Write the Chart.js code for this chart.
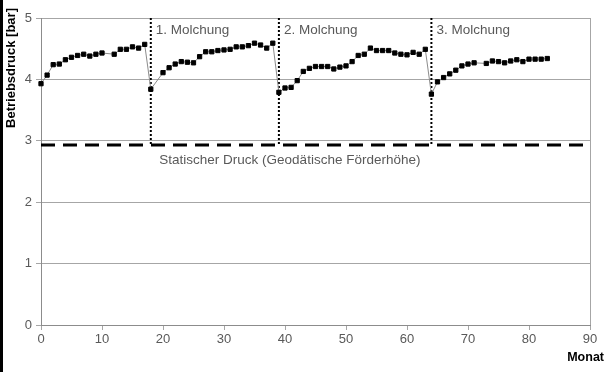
<!DOCTYPE html>
<html>
<head>
<meta charset="utf-8">
<script src="https://cdn.jsdelivr.net/npm/chart.js@4/dist/chart.umd.min.js"></script>
<style>
  html, body { margin: 0; padding: 0; background: #fff; }
  #wrap { width: 606px; height: 372px; position: relative; }
</style>
</head>
<body>
<div id="wrap"><canvas id="c"></canvas></div>
<script>
// months with a measurement (a few months are missing)
const months = [
  0, 1, 2, 3, 4, 5, 6, 7, 8, 9, 10, 12, 13, 14, 15, 16, 17, 18,
  20, 21, 22, 23, 24, 25, 26, 27, 28, 29, 30, 31, 32, 33, 34, 35, 36, 37, 38,
  39, 40, 41, 42, 43, 44, 45, 46, 47, 48, 49, 50, 51, 52, 53, 54, 55, 56, 57, 58, 59, 60, 61, 62, 63,
  64, 65, 66, 67, 68, 69, 70, 71, 73, 74, 75, 76, 77, 78, 79, 80, 81, 82, 83
]
const pressure = [
  3.93, 4.07, 4.24, 4.25, 4.32, 4.36, 4.39, 4.41, 4.38, 4.41, 4.43, 4.41, 4.49, 4.49, 4.53, 4.51, 4.57, 3.84,
  4.11, 4.19, 4.25, 4.29, 4.28, 4.27, 4.37, 4.45, 4.45, 4.47, 4.48, 4.49, 4.53, 4.53, 4.55, 4.59, 4.56, 4.51, 4.59,
  3.79, 3.86, 3.87, 3.98, 4.13, 4.18, 4.21, 4.21, 4.21, 4.17, 4.20, 4.22, 4.29, 4.39, 4.41, 4.51, 4.47, 4.47, 4.47, 4.43, 4.41, 4.40, 4.44, 4.41, 4.49,
  3.76, 3.96, 4.03, 4.09, 4.15, 4.22, 4.25, 4.27, 4.26, 4.30, 4.29, 4.27, 4.30, 4.32, 4.29, 4.33, 4.33, 4.33, 4.34
]
const pigRuns = [18, 39, 64]
const pigLabels = ['1. Molchung', '2. Molchung', '3. Molchung']
const staticPressure = 2.93
const staticLabel = 'Statischer Druck (Geodätische Förderhöhe)'
const xTicks = [0, 10, 20, 30, 40, 50, 60, 70, 80, 90]
const yTicks = [0, 1, 2, 3, 4, 5]

const FONT = '"Liberation Sans", Arial, sans-serif'
const GRID = '#a6a6a6'
const TXT = '#595959'

function pigLine(m) {
  return {
    type: 'line',
    data: [{ x: m, y: 5 }, { x: m, y: staticPressure }],
    borderColor: '#000',
    borderWidth: 2,
    borderDash: [2, 2],
    pointRadius: 0,
    order: 2,
  }
}

const extras = {
  id: 'extras',
  beforeDraw(chart) {
    const { ctx } = chart
    ctx.save()
    ctx.fillStyle = '#fff'
    ctx.fillRect(0, 0, chart.width, chart.height)
    ctx.fillStyle = '#000'
    ctx.fillRect(0, 0, 3, chart.height)
    ctx.restore()
  },
  afterDatasetsDraw(chart) {
    const { ctx, chartArea } = chart
    const xs = chart.scales.x
    const ys = chart.scales.y
    ctx.save()
    // right border of the plot
    ctx.strokeStyle = GRID
    ctx.lineWidth = 1
    ctx.beginPath()
    ctx.moveTo(Math.round(chartArea.right) + 0.5, chartArea.top)
    ctx.lineTo(Math.round(chartArea.right) + 0.5, chartArea.bottom)
    ctx.stroke()

    ctx.fillStyle = TXT
    ctx.font = '13.5px ' + FONT
    ctx.textBaseline = 'middle'
    ctx.textAlign = 'left'
    pigRuns.forEach((m, i) => {
      ctx.fillText(pigLabels[i], xs.getPixelForValue(m) + 5, ys.getPixelForValue(4.8))
    })
    ctx.textAlign = 'center'
    ctx.fillText(staticLabel, xs.getPixelForValue(40.8), ys.getPixelForValue(2.68))

    ctx.fillStyle = '#000'
    ctx.font = 'bold 12.5px ' + FONT
    ctx.textAlign = 'right'
    ctx.fillText('Monat', 604, 358)
    ctx.translate(11, 68)
    ctx.rotate(-Math.PI / 2)
    ctx.textAlign = 'center'
    ctx.font = 'bold 13px ' + FONT
    ctx.fillText('Betriebsdruck [bar]', 0, 0)
    ctx.restore()
  },
}

new Chart(document.getElementById('c'), {
  type: 'line',
  data: {
    datasets: [
      {
        data: months.map((m, i) => ({ x: m, y: pressure[i] })),
        borderColor: '#8c8c8c',
        borderWidth: 1,
        pointStyle: 'rect',
        pointRadius: 3,
        pointBackgroundColor: '#000',
        pointBorderColor: '#000',
        pointBorderWidth: 1,
        clip: false,
        order: 1,
      },
      {
        data: [{ x: 0, y: staticPressure }, { x: 90, y: staticPressure }],
        borderColor: '#000',
        borderWidth: 3,
        borderDash: [14, 8],
        pointRadius: 0,
        order: 3,
      },
      ...pigRuns.map(pigLine),
    ],
  },
  options: {
    responsive: true,
    maintainAspectRatio: false,
    animation: false,
    layout: { padding: { top: 18, right: 16, left: 0, bottom: 0 } },
    plugins: { legend: { display: false }, tooltip: { enabled: false } },
    scales: {
      x: {
        type: 'linear',
        min: 0,
        max: 90,
        afterBuildTicks: s => { s.ticks = xTicks.map(v => ({ value: v })) },
        afterFit: s => { s.height = 47 },
        grid: { drawOnChartArea: false, drawTicks: true, tickLength: 5, color: GRID },
        border: { color: '#8c8c8c' },
        ticks: { color: TXT, font: { family: FONT, size: 13 }, padding: 2, maxRotation: 0 },
      },
      y: {
        min: 0,
        max: 5,
        afterBuildTicks: s => { s.ticks = yTicks.map(v => ({ value: v })) },
        afterFit: s => { s.width = 41 },
        grid: { color: GRID, tickLength: 5 },
        border: { color: '#8c8c8c' },
        ticks: { color: TXT, font: { family: FONT, size: 13 }, padding: 4 },
      },
    },
  },
  plugins: [extras],
})
</script>
</body>
</html>
